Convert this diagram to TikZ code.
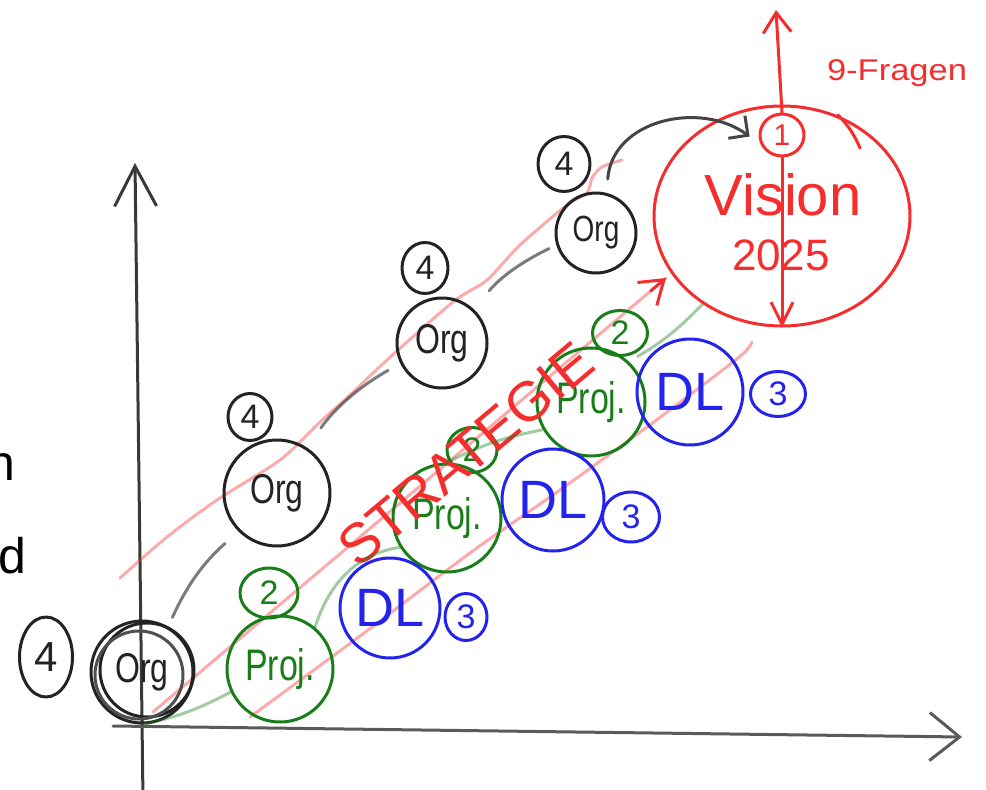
\documentclass[tikz,border=0pt]{standalone}
\usepackage{fontspec}
\setmainfont{Liberation Sans}
\usetikzlibrary{shapes.geometric,arrows.meta,calc}
\definecolor{inkblack}{RGB}{35,35,35}
\definecolor{inkred}{RGB}{245,45,45}
\definecolor{inkgreen}{RGB}{25,125,25}
\definecolor{inkblue}{RGB}{35,35,235}
\newcommand{\myfs}[1]{\fontsize{#1}{#1}\selectfont}
\newcommand{\tall}[1]{\scalebox{1}[1.3]{#1}}
\begin{document}
\begin{tikzpicture}[x=1pt,y=-1pt,
 sk/.style={line width=3pt,line cap=round,line join=round},
 ring/.style={circle,sk,draw,inner sep=0pt},
 oval/.style={ellipse,sk,draw,inner sep=0pt},
 orgc/.style={ring,draw=inkblack,text=inkblack,font=\myfs{32}},
 projc/.style={ring,draw=inkgreen,text=inkgreen,font=\myfs{34}},
 dlc/.style={ring,draw=inkblue,text=inkblue,font=\myfs{54}},
 numk/.style={oval,draw=inkblack,text=inkblack,font=\myfs{34}},
 numg/.style={oval,draw=inkgreen,text=inkgreen,font=\myfs{34}},
 numb/.style={oval,draw=inkblue,text=inkblue,font=\myfs{34}},
 faintred/.style={sk,draw=inkred,draw opacity=0.4},
 faintgreen/.style={sk,draw=inkgreen,draw opacity=0.4},
 faintgray/.style={sk,draw=inkblack,draw opacity=0.6},
 redline/.style={sk,draw=inkred},
 edgetext/.style={text=black,inner sep=0pt,font=\myfs{50}},
]
\useasboundingbox (0,0) rectangle (986,790);
\clip (0,0) rectangle (986,790);

% cut-off text at the left edge
\node[edgetext,anchor=base east] (tn) at (16,480) {n};
\node[edgetext,anchor=base east] (td) at (27,573) {d};

% axes
\coordinate (yb) at (143,800);
\coordinate (yt) at (135,163);
\coordinate (xl) at (113,726);
\coordinate (xr) at (962,737);
\draw[sk,draw=inkblack!90,-{Straight Barb[length=40pt,width=42pt]}] (yb) -- (yt);
\draw[sk,draw=inkblack!75,-{Straight Barb[length=30pt,width=48pt]}] (xl) -- (xr);

% faint strategy lines
\draw[faintred] plot[smooth] coordinates {(120,578) (167,537) (217,500) (280,460) (320,422) (350,395) (387,360) (453,302) (487,280) (520,245) (567,205) (587,193) (592,178) (602,167) (622,160)};
\draw[faintred] plot[smooth] coordinates {(250,717) (360,636) (470,553) (560,490) (647,427) (720,372) (745,352) (752,342)};
\coordinate (sS) at (153,712);
\coordinate (sE) at (666,278);
\draw[faintred] (sS) -- (sE);
\draw[redline,-{Straight Barb[length=22pt,width=30pt]}] ($(sE)!20pt!(sS)$) -- (sE);

% nodes: Org
\node[orgc,minimum size=102pt] (o1) at (142,672) {\tall{Org}};
\draw[sk,draw=inkblack] ($(o1)+(5,-2)$) circle[radius=47pt];
\draw[sk,draw=inkblack!80] ($(o1)+(-3,3)$) circle[radius=44pt];
\node[orgc,minimum size=106pt] (o2) at (277,493) {\tall{Org}};
\node[orgc,minimum size=90pt] (o3) at (442,343) {\tall{Org}};
\node[orgc,minimum size=80pt,font=\myfs{28}] (o4) at (596,233) {\tall{Org}};
\node[numk,minimum width=53pt,minimum height=80pt,font=\myfs{42}] (k1) at (46,657) {4};
\node[numk,minimum width=44pt,minimum height=47pt] (k2) at (250,417) {4};
\node[numk,minimum width=46pt,minimum height=51pt] (k3) at (425,268) {4};
\node[numk,minimum width=52pt,minimum height=55pt] (k4) at (564,164) {4};

% nodes: Proj
\node[projc,minimum size=106pt] (p1) at (280,669) {\tall{Proj.}};
\node[projc,minimum size=108pt] (p2) at (447,518) {\tall{Proj.}};
\node[projc,minimum size=108pt] (p3) at (591,402) {\tall{Proj.}};
\node[numg,minimum width=58pt,minimum height=50pt] (g1) at (269,593) {2};
\node[numg,minimum width=50pt,minimum height=45pt] (g2) at (472,450) {2};
\node[numg,minimum width=55pt,minimum height=45pt] (g3) at (620,333) {2};

% nodes: DL
\node[dlc,minimum size=100pt] (d1) at (390,608) {DL};
\node[dlc,minimum size=102pt] (d2) at (553,500) {DL};
\node[dlc,minimum size=106pt] (d3) at (690,392) {DL};
\node[numb,minimum width=42pt,minimum height=47pt] (b1) at (466,617) {3};
\node[numb,minimum width=57pt,minimum height=50pt] (b2) at (631,517) {3};
\node[numb,minimum width=55pt,minimum height=45pt] (b3) at (778,394) {3};

% Vision
\node[oval,draw=inkred,minimum width=256pt,minimum height=220pt] (vis) at (782,216) {};
\node[text=inkred,font=\myfs{58}] (tvis) at (783,195) {Vision};
\node[text=inkred,font=\myfs{44}] (tyr) at (781,255) {2025};
\node[oval,draw=inkred,text=inkred,minimum width=44pt,minimum height=42pt,font=\myfs{30}] (v1) at (782,135) {1};
\draw[redline] (838,115) to[bend left=10] (860,148);
\coordinate (vtop) at (776,10);
\draw[redline,-{Straight Barb[length=20pt,width=28pt]}] (v1.north) -- (vtop);
\draw[redline,-{Straight Barb[length=22pt,width=22pt]}] (v1.south) -- (vis.south);
\node[text=inkred,font=\myfs{30},xscale=1.15,transform shape] (frag) at (897,73) {9-Fragen};

% STRATEGIE
\node[text=inkred,rotate=40,font=\myfs{56}] (strat) at (466,454) {STRATEGIE};

% green links between Proj circles
\draw[faintgreen] (o1.south) to[bend right=8] (p1.205);
\draw[faintgreen] (p1.50) .. controls (330,580) and (360,553) .. (p2.212);
\draw[faintgreen] (p2.north) to[bend left=8] (p3.210);
\draw[faintgreen,shorten <=10pt] (p3.47) to[bend right=8] (vis.228);

% gray links between Org circles
\draw[faintgray,shorten <=10pt,shorten >=18pt] (o1.60) to[bend left=12] (o2.225);
\draw[faintgray,shorten <=24pt,shorten >=14pt] (o2.57) to[bend left=12] (o3.206);
\draw[faintgray,shorten <=24pt,shorten >=8pt] (o3.47) to[bend left=12] (o4.197);
\draw[sk,draw=inkblack!85,shorten <=14pt,shorten >=14pt,-{Straight Barb[length=14pt,width=28pt]}] (o4.75) .. controls (612,120) and (700,100) .. (v1.205);
\end{tikzpicture}
\end{document}
